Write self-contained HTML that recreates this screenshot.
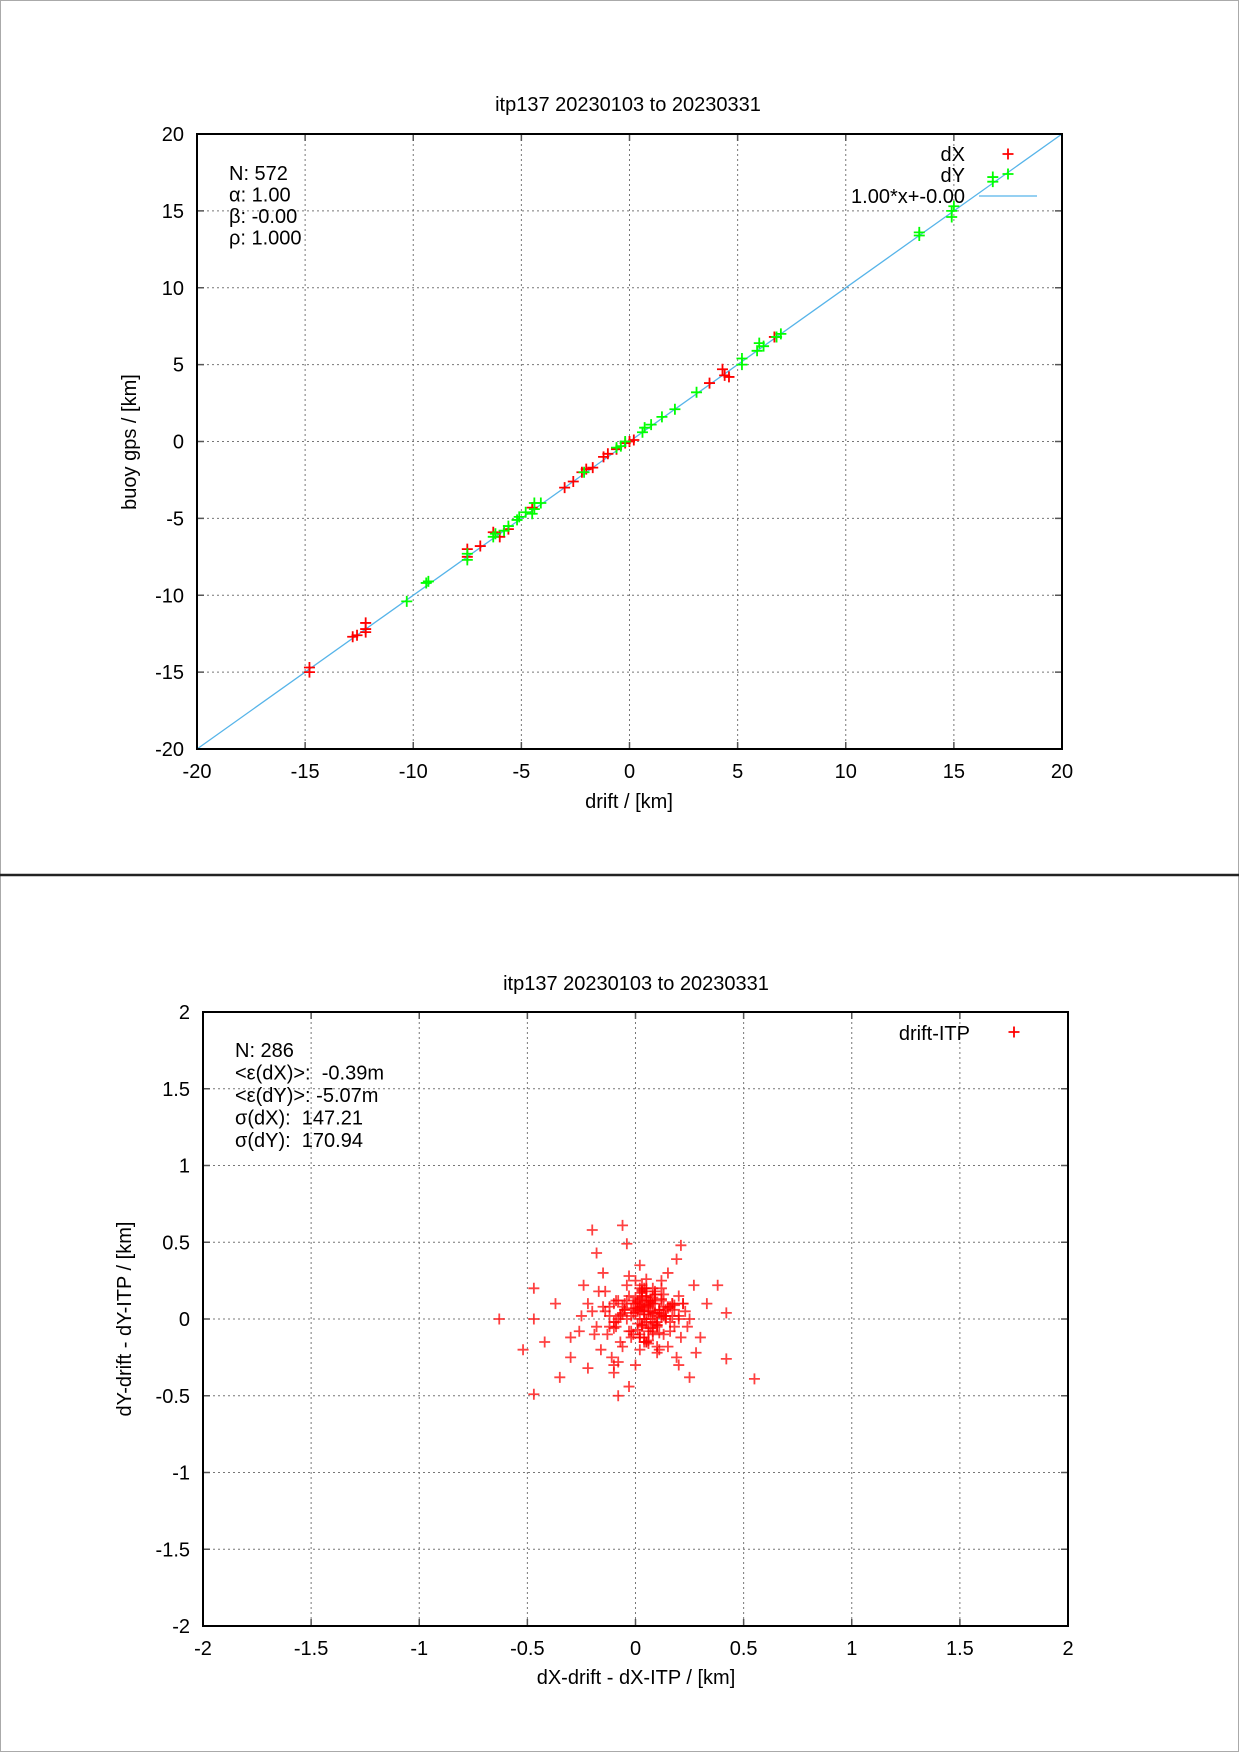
<!DOCTYPE html>
<html><head><meta charset="utf-8"><style>
html,body{margin:0;padding:0;background:#fff}
svg{display:block;font-family:"Liberation Sans",sans-serif}
text{white-space:pre}
</style></head><body>
<svg id="chart" width="1239" height="1752" viewBox="0 0 1239 1752" xmlns="http://www.w3.org/2000/svg">
<rect x="0.5" y="0.5" width="1238" height="1751" fill="#fff" stroke="#aaa"/>
<line x1="0" y1="875" x2="1239" y2="875" stroke="#222" stroke-width="2.5"/>
<g id="top"></g>
<g id="bot"></g>
</svg>
<script>
// ---- top panel data ----
const topXTicks=[-20,-15,-10,-5,0,5,10,15,20];
const topYTicks=[-20,-15,-10,-5,0,5,10,15,20];
const dXdrift=[-14.8,-14.8,-12.8,-12.6,-12.2,-12.2,-12.2,-7.5,-7.5,-6.9,-6.3,-6,-5.6,-4.5,-3,-2.6,-2.2,-2,-1.7,-1.2,-1,-0.6,-0.2,0,0.2,3.7,4.3,4.4,4.6,6.7];
const dXgps=[-14.7,-15,-12.7,-12.6,-12.2,-11.8,-12.4,-7,-7.5,-6.8,-5.9,-6.2,-5.7,-4.3,-3,-2.6,-2,-1.8,-1.7,-1,-0.8,-0.5,-0.1,0,0.1,3.8,4.7,4.3,4.2,6.8];
const dYdrift=[-10.3,-9.4,-9.3,-7.5,-7.5,-6.3,-6.2,-5.8,-5.6,-5.2,-5.1,-4.8,-4.4,-4.4,-4.1,-4.5,-2.1,-0.6,-0.4,-0.2,0.6,0.7,1,1.5,2.1,3.1,5.2,5.2,5.9,6,6.2,6.8,7,13.4,13.4,14.9,14.9,15,16.8,16.8];
const dYgps=[-10.4,-9.2,-9.1,-7.3,-7.7,-6.2,-6,-5.8,-5.5,-5.1,-4.9,-4.6,-4.4,-4,-4,-4.7,-2,-0.4,-0.3,0,0.6,0.9,1.1,1.6,2.1,3.2,5,5.4,5.9,6.4,6.2,6.8,7,13.4,13.6,14.6,15,15.3,16.9,17.2];
const fitAlpha=1.00, fitBeta=0.00;
// ---- bottom panel data ----
const botXTicks=[-2,-1.5,-1,-0.5,0,0.5,1,1.5,2];
const botYTicks=[-2,-1.5,-1,-0.5,0,0.5,1,1.5,2];
const errX=[-0.63,-0.52,-0.47,-0.47,-0.47,-0.42,-0.37,-0.35,-0.3,-0.3,-0.25,-0.24,-0.22,-0.2,-0.18,-0.17,-0.15,-0.1,-0.1,-0.08,-0.06,-0.04,0.02,0.21,0.19,0.15,0.27,0.33,0.38,0.42,0.42,0.55,0.25,0.2,-0.03,0.3,
-0.2,-0.18,-0.15,-0.13,-0.12,-0.1,-0.08,-0.07,-0.05,-0.04,-0.03,-0.02,-0.01,0,0.01,0.02,0.03,0.04,0.05,0.06,0.07,0.08,0.09,0.1,0.11,0.12,0.13,0.14,0.16,0.18,0.2,0.22,
-0.16,-0.14,-0.11,-0.09,-0.06,-0.04,-0.02,0,0.02,0.03,0.05,0.06,0.08,0.1,0.12,0.15,0.17,0.19,0.23,
-0.12,-0.08,-0.05,-0.01,0.01,0.03,0.04,0.06,0.09,0.11,0.14,0.18,0.21,0.25,0.28,
-0.26,-0.22,-0.19,-0.14,-0.1,-0.06,-0.03,0,0.02,0.05,0.07,0.1,0.13,0.16,0.2,0.24,
0.0,0.02,0.04,0.05,0.07,0.03,0.01,-0.02,0.06,0.08,0.1,0.12,0.15,-0.07,-0.09,0.17,0.11,0.09,0.04,0.02,
0.03,0.05,0.06,0.04,0.02,0.07,0.08,0.05,0.03,0.01,0.04,0.06,0.09,0.1,0.02,0.0,0.05,0.07,0.03,0.08,
0.11,0.12,0.13,0.06,0.04,-0.01,0.02,0.09,0.14,0.15,0.05,0.03,0.07,0.1,0.01,-0.03,-0.05,0.0,0.12,0.16,
-0.08,-0.06,-0.1,-0.12,-0.04,0.18,0.2,0.22,0.13,0.08,0.06,0.04,0.02,-0.02,0.1,0.07,0.05,0.09,0.11,0.03,
0.01,0.03,0.05,-0.07,-0.09,0.06,0.08,0.12,0.14,0.17];
const errY=[0,-0.2,0.2,-0.49,0,-0.15,0.1,-0.38,-0.12,-0.25,0.02,0.22,-0.32,0.58,0.43,0.18,0.3,0.1,-0.35,-0.5,0.61,0.49,0.35,0.48,0.39,0.3,0.22,0.1,0.22,0.04,-0.26,-0.39,-0.38,-0.3,-0.44,-0.12,
0.05,-0.05,0.08,-0.1,0.02,-0.02,0.12,-0.15,0.06,0.0,0.15,-0.08,0.1,0.04,-0.03,0.2,0.08,-0.12,0.14,0.03,-0.06,0.1,0.18,-0.02,0.06,0.12,-0.1,0.02,0.08,-0.05,0.0,0.1,
-0.2,0.18,-0.25,0.12,-0.18,0.22,-0.12,0.25,-0.2,0.17,0.26,-0.16,0.2,-0.22,0.25,-0.18,0.1,-0.25,0.05,
-0.05,-0.28,0.06,-0.1,0.12,-0.04,0.07,-0.14,0.04,-0.2,0.02,0.06,-0.12,0.0,-0.22,
-0.08,0.1,-0.1,0.05,-0.3,0.08,0.28,-0.3,0.0,-0.15,0.1,-0.05,0.08,-0.08,0.15,-0.05,
0.1,0.13,0.05,-0.02,0.0,0.18,-0.07,0.02,0.12,0.04,-0.04,0.2,0.07,0.03,-0.05,0.02,-0.09,0.16,-0.15,0.08,
0.15,0.12,0.08,0.2,0.1,0.05,0.14,0.0,-0.04,0.06,0.03,-0.08,0.1,0.02,-0.1,0.07,0.18,0.11,0.22,-0.02,
0.06,0.13,0.02,-0.06,0.09,0.04,-0.12,0.16,0.0,0.08,-0.15,0.19,0.12,-0.04,0.05,-0.08,0.1,0.14,0.03,-0.02,
0.0,0.04,-0.06,0.08,0.12,0.09,0.02,0.1,0.16,-0.08,0.05,0.0,-0.12,0.07,-0.18,0.12,0.2,-0.03,0.04,0.06,
0.11,-0.05,0.15,0.02,-0.02,0.09,-0.1,0.01,0.06,0.1];

const NS='http://www.w3.org/2000/svg';
function mk(parent,tag,attrs,text){const e=document.createElementNS(NS,tag);for(const k in attrs)e.setAttribute(k,attrs[k]);if(text!==undefined)e.textContent=text;parent.appendChild(e);return e;}
function cross(g,cx,cy,color,s,op){return mk(g,'path',{d:`M${cx-s},${cy}H${cx+s}M${cx},${cy-s}V${cy+s}`,stroke:color,'stroke-width':1.8,fill:'none','stroke-opacity':op||1});}
const FS=20;

function panel(g,cfg){
  const {L,R,T,B,xmin,xmax,ymin,ymax,xt,yt}=cfg;
  const sx=v=>L+(v-xmin)/(xmax-xmin)*(R-L);
  const sy=v=>B-(v-ymin)/(ymax-ymin)*(B-T);
  const grid=mk(g,'g',{});
  
  
  xt.forEach(v=>{const x=sx(v);
    if(v>xmin&&v<xmax){mk(grid,'line',{x1:x,y1:T,x2:x,y2:B,stroke:'#777','stroke-width':1,'stroke-dasharray':'2,3'});}
    mk(g,'line',{x1:x,y1:B,x2:x,y2:B-7,stroke:'#555','stroke-width':1.5});
    mk(g,'line',{x1:x,y1:T,x2:x,y2:T+7,stroke:'#555','stroke-width':1.5});
    const t=mk(g,'text',{x:x,y:B+29,'text-anchor':'middle','font-size':FS},String(v));
    
    
  });
  yt.forEach(v=>{const y=sy(v);
    if(v>ymin&&v<ymax){mk(grid,'line',{x1:L,y1:y,x2:R,y2:y,stroke:'#777','stroke-width':1,'stroke-dasharray':'2,3'});}
    mk(g,'line',{x1:L,y1:y,x2:L+7,y2:y,stroke:'#555','stroke-width':1.5});
    mk(g,'line',{x1:R,y1:y,x2:R-7,y2:y,stroke:'#555','stroke-width':1.5});
    const t=mk(g,'text',{x:L-13,y:y+7,'text-anchor':'end','font-size':FS},String(v));
    
    
  });
  return {sx,sy};
}

// top panel
const gt=document.getElementById('top');


const A={L:197,R:1062,T:134,B:749,xmin:-20,xmax:20,ymin:-20,ymax:20,xt:topXTicks,yt:topYTicks};
const s1=panel(gt,A);
const clip1=mk(gt,'clipPath',{id:'c1'});mk(clip1,'rect',{x:A.L,y:A.T,width:A.R-A.L,height:A.B-A.T});
const fit=mk(gt,'line',{x1:s1.sx(-20),y1:s1.sy(fitAlpha*-20+fitBeta),x2:s1.sx(20),y2:s1.sy(fitAlpha*20+fitBeta),stroke:'#56b4e9','stroke-width':1.3,'clip-path':'url(#c1)'});


const gX=mk(gt,'g',{});


dXdrift.forEach((v,i)=>{const c=cross(gX,s1.sx(v),s1.sy(dXgps[i]),'#ff0000',5.5);});
const gY=mk(gt,'g',{});


dYdrift.forEach((v,i)=>{const c=cross(gY,s1.sx(v),s1.sy(dYgps[i]),'#00ff00',5.5);});
mk(gt,'rect',{x:A.L,y:A.T,width:A.R-A.L,height:A.B-A.T,fill:'none',stroke:'#000','stroke-width':2});
let t;
t=mk(gt,'text',{x:628,y:111,'text-anchor':'middle','font-size':FS},'itp137 20230103 to 20230331');
t=mk(gt,'text',{x:629,y:808,'text-anchor':'middle','font-size':FS},'drift / [km]');
t=mk(gt,'text',{x:0,y:0,'text-anchor':'middle','font-size':FS,transform:'translate(136,442) rotate(-90)'},'buoy gps / [km]');
['N: 572','α: 1.00','β: -0.00','ρ: 1.000'].forEach((s,i)=>{const e=mk(gt,'text',{x:229,y:180+i*21.5,'font-size':FS},s);});
t=mk(gt,'text',{x:965,y:161,'text-anchor':'end','font-size':FS},'dX');
cross(gt,1008,154,'#ff0000',5.5);
t=mk(gt,'text',{x:965,y:182,'text-anchor':'end','font-size':FS},'dY');
cross(gt,1008,174,'#00ff00',5.5);
t=mk(gt,'text',{x:965,y:203,'text-anchor':'end','font-size':FS},'1.00*x+-0.00');
mk(gt,'line',{x1:979,y1:196,x2:1037,y2:196,stroke:'#56b4e9','stroke-width':1.3});

// bottom panel
const gb=document.getElementById('bot');


const B2={L:203,R:1068,T:1012,B:1626,xmin:-2,xmax:2,ymin:-2,ymax:2,xt:botXTicks,yt:botYTicks};
const s2=panel(gb,B2);
const gE=mk(gb,'g',{});


errX.forEach((v,i)=>{const c=cross(gE,s2.sx(v),s2.sy(errY[i]),'#ff0000',5.5,0.75);});
mk(gb,'rect',{x:B2.L,y:B2.T,width:B2.R-B2.L,height:B2.B-B2.T,fill:'none',stroke:'#000','stroke-width':2});
t=mk(gb,'text',{x:636,y:990,'text-anchor':'middle','font-size':FS},'itp137 20230103 to 20230331');
t=mk(gb,'text',{x:636,y:1684,'text-anchor':'middle','font-size':FS},'dX-drift - dX-ITP / [km]');
t=mk(gb,'text',{x:0,y:0,'text-anchor':'middle','font-size':FS,transform:'translate(131,1319) rotate(-90)'},'dY-drift - dY-ITP / [km]');
['N: 286','<ε(dX)>:  -0.39m','<ε(dY)>: -5.07m','σ(dX):  147.21','σ(dY):  170.94'].forEach((s,i)=>{const e=mk(gb,'text',{x:235,y:1057+i*22.5,'font-size':FS},s);});
t=mk(gb,'text',{x:970,y:1040,'text-anchor':'end','font-size':FS},'drift-ITP');
cross(gb,1014,1032,'#ff0000',5.5);
</script>
</body></html>
